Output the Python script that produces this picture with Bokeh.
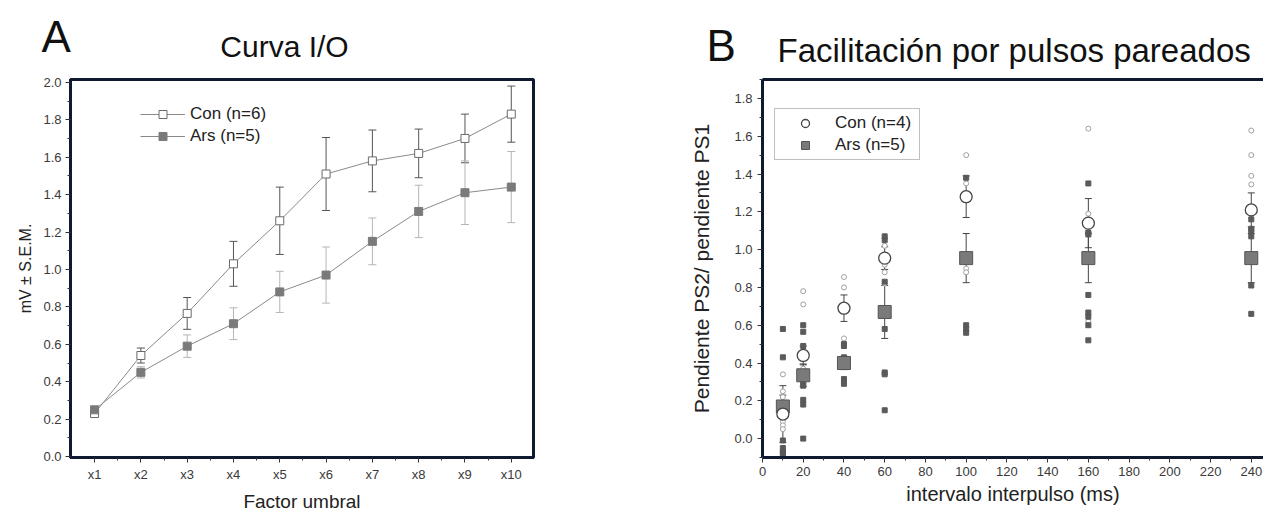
from bokeh.plotting import figure
from bokeh.layouts import row, column
from bokeh.models import (ColumnDataSource, Whisker, TeeHead, Legend, LegendItem,
                          FixedTicker, LinearAxis, NumeralTickFormatter, Range1d)
from bokeh.core.properties import value
from bokeh.embed import file_html
from bokeh.resources import INLINE

# ---------------- Panel A data: Curva I/O ----------------
factor_labels = ["x1", "x2", "x3", "x4", "x5", "x6", "x7", "x8", "x9", "x10"]
con_io = [0.23, 0.54, 0.765, 1.03, 1.26, 1.51, 1.58, 1.62, 1.70, 1.83]
con_io_sem = [0.01, 0.04, 0.085, 0.12, 0.18, 0.195, 0.165, 0.13, 0.13, 0.15]
ars_io = [0.25, 0.45, 0.59, 0.71, 0.88, 0.97, 1.15, 1.31, 1.41, 1.44]
ars_io_sem = [0.01, 0.03, 0.06, 0.085, 0.11, 0.15, 0.125, 0.14, 0.17, 0.19]

# ---------------- Panel B data: paired pulse facilitation ----------------
intervals = [10, 20, 40, 60, 100, 160, 240]
con_ppf = [0.13, 0.44, 0.69, 0.955, 1.28, 1.14, 1.21]
con_ppf_sem = [0.15, 0.05, 0.07, 0.06, 0.11, 0.13, 0.09]
ars_ppf = [0.17, 0.335, 0.40, 0.67, 0.955, 0.955, 0.955]
ars_ppf_sem = [0.06, 0.06, 0.035, 0.14, 0.13, 0.13, 0.13]

con_pts_x = [10, 10, 10, 10, 10, 10, 20, 20, 20, 20, 40, 40, 40, 60, 60, 60, 60,
             100, 100, 100, 100, 160, 160, 160, 240, 240, 240, 240]
con_pts_y = [0.34, 0.25, 0.22, 0.09, 0.07, 0.05, 0.78, 0.71, 0.49, 0.37, 0.855, 0.80, 0.53,
             1.02, 0.92, 0.88, 0.82, 1.50, 1.35, 0.90, 0.88, 1.64, 1.19, 0.62,
             1.63, 1.50, 1.39, 1.345]
ars_pts_x = [10, 10, 10, 10, 10, 10, 20, 20, 20, 20, 20, 20, 20, 20, 40, 40, 40, 40, 40,
             60, 60, 60, 60, 60, 60, 60, 100, 100, 100, 100,
             160, 160, 160, 160, 160, 160, 160, 160, 240, 240, 240, 240, 240, 240]
ars_pts_y = [0.58, 0.43, -0.01, -0.05, -0.07, -0.08, 0.60, 0.565, 0.49, 0.29, 0.28, 0.205, 0.18, 0.0,
             0.50, 0.49, 0.43, 0.315, 0.29,
             1.07, 1.05, 0.83, 0.58, 0.35, 0.34, 0.15, 1.38, 0.60, 0.58, 0.56,
             1.35, 1.09, 1.08, 0.76, 0.667, 0.645, 0.60, 0.52, 1.16, 1.11, 1.10, 1.07, 0.81, 0.66]

# ---------------- header texts ----------------
panel_letters = ["A", "B"]
panel_titles = ["Curva I/O", "Facilitación por pulsos pareados"]

FONT = "Liberation Sans"
FRAME = "#0f1930"
TICKTXT = "#3a3a3a"
HEAD_H = 74


def style_axis(ax, label_size, tick_size):
    ax.axis_line_color = FRAME
    ax.axis_line_width = 3
    ax.major_tick_line_color = "#333333"
    ax.minor_tick_line_color = "#333333"
    ax.major_tick_out = 5
    ax.major_tick_in = 0
    ax.minor_tick_out = 3
    ax.minor_tick_in = 0
    ax.major_label_text_font = FONT
    ax.major_label_text_font_size = tick_size
    ax.major_label_text_color = TICKTXT
    ax.axis_label_text_font = FONT
    ax.axis_label_text_font_size = label_size
    ax.axis_label_text_font_style = "normal"
    ax.axis_label_text_color = "#222222"


# ======================= Header (panel letters and titles) =======================
head = figure(width=1263, height=HEAD_H, x_range=Range1d(0, 1263), y_range=Range1d(HEAD_H, 0),
              output_backend="svg", toolbar_location=None, x_axis_type=None, y_axis_type=None,
              min_border=0)
head.grid.visible = False
head.outline_line_color = None
head.background_fill_color = "#ffffff"
head.border_fill_color = "#ffffff"
head.text(x=[41, 706], y=[36, 45], text=panel_letters, text_font=value(FONT),
          text_font_size=value("44px"), text_baseline="alphabetic", text_align="left",
          text_color="#111111")
head.text(x=[284], y=[46], text=panel_titles[:1], text_font=value(FONT),
          text_font_size=value("30px"), text_baseline="alphabetic", text_align="center",
          text_color="#111111")
head.text(x=[777], y=[50], text=panel_titles[1:], text_font=value(FONT),
          text_font_size=value("33px"), text_baseline="alphabetic", text_align="left",
          text_color="#111111")

# ======================= Panel A =======================
xi = list(range(1, len(factor_labels) + 1))
srcA = ColumnDataSource(dict(
    x=xi,
    con=con_io,
    con_lo=[m - s for m, s in zip(con_io, con_io_sem)],
    con_hi=[m + s for m, s in zip(con_io, con_io_sem)],
    ars=ars_io,
    ars_lo=[m - s for m, s in zip(ars_io, ars_io_sem)],
    ars_hi=[m + s for m, s in zip(ars_io, ars_io_sem)],
))

pA = figure(width=680, height=516 - HEAD_H, x_range=(0.48, 10.48), y_range=(-0.005, 2.015),
            output_backend="svg", toolbar_location=None,
            min_border_left=70, min_border_right=147, min_border_top=77 - HEAD_H,
            min_border_bottom=59)
pA.grid.visible = False
pA.outline_line_color = FRAME
pA.outline_line_width = 3
pA.background_fill_color = "#ffffff"
pA.border_fill_color = "#ffffff"

pA.xaxis.ticker = FixedTicker(ticks=xi, minor_ticks=[v + 0.5 for v in xi[:-1]])
pA.xaxis.major_label_overrides = {v: lab for v, lab in zip(xi, factor_labels)}
pA.yaxis.ticker = FixedTicker(ticks=[i / 5 for i in range(11)], minor_ticks=[i / 10 for i in range(21)])
pA.yaxis.formatter = NumeralTickFormatter(format="0.0")
pA.xaxis.axis_label = "Factor umbral"
pA.yaxis.axis_label = "mV ± S.E.M."
style_axis(pA.xaxis[0], "19px", "13px")
style_axis(pA.yaxis[0], "16px", "13px")
pA.xaxis.major_label_standoff = 4
pA.xaxis.axis_label_standoff = 6
pA.yaxis.major_label_standoff = 4
pA.yaxis.axis_label_standoff = 6

wc = Whisker(source=srcA, base="x", upper="con_hi", lower="con_lo", dimension="height",
             line_color="#555555", line_width=1, level="underlay",
             upper_head=TeeHead(size=8, line_color="#555555"),
             lower_head=TeeHead(size=8, line_color="#555555"))
wa = Whisker(source=srcA, base="x", upper="ars_hi", lower="ars_lo", dimension="height",
             line_color="#b5b5b5", line_width=1, level="underlay",
             upper_head=TeeHead(size=8, line_color="#b5b5b5"),
             lower_head=TeeHead(size=8, line_color="#b5b5b5"))
pA.add_layout(wc)
pA.add_layout(wa)

lc = pA.line("x", "con", source=srcA, line_color="#8a8a8a", line_width=1)
la = pA.line("x", "ars", source=srcA, line_color="#8a8a8a", line_width=1)
sc = pA.scatter("x", "con", source=srcA, marker="square", size=8,
                fill_color="#ffffff", line_color="#6a6a6a", line_width=1)
sa = pA.scatter("x", "ars", source=srcA, marker="square", size=8,
                fill_color="#7a7a7a", line_color="#7a7a7a", line_width=1)

legA = Legend(items=[LegendItem(label="Con (n=6)", renderers=[lc, sc]),
                     LegendItem(label="Ars (n=5)", renderers=[la, sa])],
              location=(70, 311), border_line_color=None, background_fill_alpha=0,
              glyph_width=45, glyph_height=20, label_height=20, label_standoff=5,
              label_text_font=FONT, label_text_font_size="17px", label_text_color="#222222",
              padding=0, spacing=2, margin=0)
pA.add_layout(legA)

# ======================= Panel B =======================
srcB = ColumnDataSource(dict(
    x=intervals,
    con=con_ppf,
    con_lo=[m - s for m, s in zip(con_ppf, con_ppf_sem)],
    con_hi=[m + s for m, s in zip(con_ppf, con_ppf_sem)],
    ars=ars_ppf,
    ars_lo=[m - s for m, s in zip(ars_ppf, ars_ppf_sem)],
    ars_hi=[m + s for m, s in zip(ars_ppf, ars_ppf_sem)],
))

pB = figure(width=583, height=516 - HEAD_H, x_range=(0, 246), y_range=(-0.1, 1.9),
            output_backend="svg", toolbar_location=None,
            min_border_left=82, min_border_right=0, min_border_top=79 - HEAD_H,
            min_border_bottom=57)
pB.grid.visible = False
pB.outline_line_color = None
pB.background_fill_color = "#ffffff"
pB.border_fill_color = "#ffffff"

pB.xaxis.ticker = FixedTicker(ticks=list(range(0, 241, 20)), minor_ticks=list(range(10, 241, 20)))
pB.yaxis.ticker = FixedTicker(ticks=[i / 5 for i in range(10)], minor_ticks=[i / 10 - 0.1 for i in range(21)])
pB.yaxis.formatter = NumeralTickFormatter(format="0.0")
pB.xaxis.axis_label = "intervalo interpulso (ms)"
pB.yaxis.axis_label = "Pendiente PS2/ pendiente PS1"
style_axis(pB.xaxis[0], "20px", "13px")
style_axis(pB.yaxis[0], "21px", "13px")
pB.xaxis.major_label_standoff = 4
pB.xaxis.axis_label_standoff = 4
pB.yaxis.major_label_standoff = 5
pB.yaxis.axis_label_standoff = 18

top_ax = LinearAxis(ticker=FixedTicker(ticks=[]), axis_line_color=FRAME, axis_line_width=3,
                    major_tick_line_color=None, minor_tick_line_color=None)
pB.add_layout(top_ax, "above")

wbc = Whisker(source=srcB, base="x", upper="con_hi", lower="con_lo", dimension="height",
              line_color="#444444", line_width=1, level="underlay",
              upper_head=TeeHead(size=7, line_color="#444444"),
              lower_head=TeeHead(size=7, line_color="#444444"))
wba = Whisker(source=srcB, base="x", upper="ars_hi", lower="ars_lo", dimension="height",
              line_color="#444444", line_width=1, level="underlay",
              upper_head=TeeHead(size=7, line_color="#444444"),
              lower_head=TeeHead(size=7, line_color="#444444"))
pB.add_layout(wbc)
pB.add_layout(wba)

pB.scatter(con_pts_x, con_pts_y, marker="circle", size=5, fill_color="#ffffff",
           line_color="#a0a0a0", line_width=1)
pB.scatter(ars_pts_x, ars_pts_y, marker="square", size=5, fill_color="#5a5a5a",
           line_color="#5a5a5a", line_width=1)
mb_a = pB.scatter("x", "ars", source=srcB, marker="square", size=13,
                  fill_color="#7a7a7a", line_color="#555555", line_width=1)
mb_c = pB.scatter("x", "con", source=srcB, marker="circle", size=12,
                  fill_color="#ffffff", line_color="#444444", line_width=1.3)

legB = Legend(items=[LegendItem(label="Con (n=4)", renderers=[mb_c]),
                     LegendItem(label="Ars (n=5)", renderers=[mb_a])],
              location=(12, 297), border_line_color="#808080", border_line_width=1,
              background_fill_color="#ffffff", background_fill_alpha=1,
              glyph_width=52, glyph_height=20, label_height=20, label_standoff=4,
              label_width=80, label_text_font=FONT, label_text_font_size="17px",
              label_text_color="#222222", padding=4, spacing=2, margin=0)
pB.add_layout(legB)

layout = column(head, row(pA, pB))
open("out.html", "w").write(file_html(layout, INLINE))
